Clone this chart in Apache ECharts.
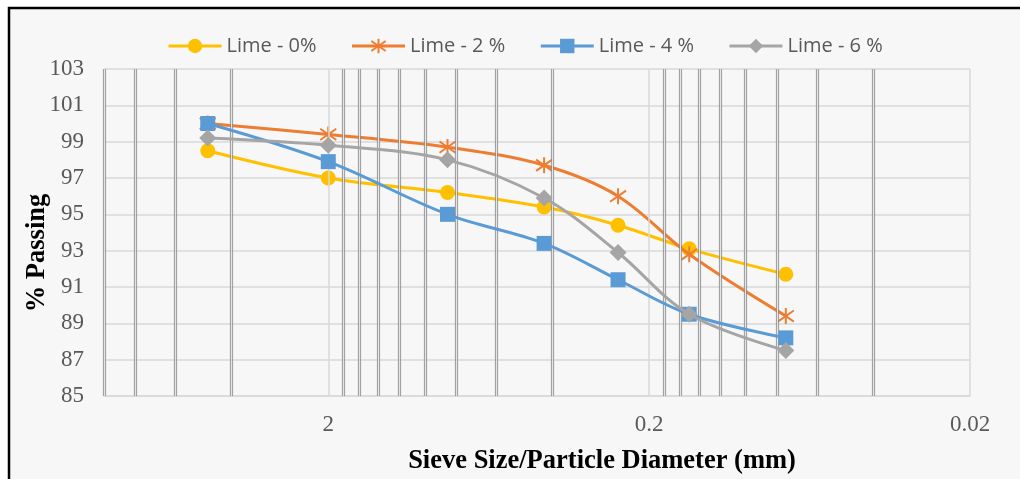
<!DOCTYPE html>
<html>
<head>
<meta charset="utf-8">
<script src="https://cdn.jsdelivr.net/npm/echarts@6/dist/echarts.min.js"></script>
<style>
  html, body { margin: 0; padding: 0; background: #ffffff; }
  #chart { width: 1020px; height: 479px; }
</style>
</head>
<body>
<div id="chart"></div>
<script>
// Sieve sizes (mm) and % passing for each lime content
const sieveSizes = [4.75, 2, 0.85, 0.425, 0.25, 0.15, 0.075];
const lime0 = [98.5, 97.0, 96.2, 95.4, 94.4, 93.1, 91.7];
const lime2 = [100, 99.4, 98.7, 97.7, 96.0, 92.8, 89.4];
const lime4 = [100, 97.9, 95.0, 93.4, 91.4, 89.5, 88.2];
const lime6 = [99.2, 98.8, 98.0, 95.9, 92.9, 89.5, 87.5];
const seriesNames = ['Lime - 0%', 'Lime - 2 %', 'Lime - 4 %', 'Lime - 6 %'];

// Log-axis labels and grid positions (mm)
const xTickLabels = [2, 0.2, 0.02];
const minorGridValues = [10, 8, 6, 4, 1.8, 1.6, 1.4, 1.2, 1.0, 0.8, 0.6, 0.4,
                         0.18, 0.16, 0.14, 0.12, 0.1, 0.08, 0.06, 0.04];

const COLORS = ['#FFC000', '#ED7D31', '#5B9BD5', '#A5A5A5'];
const SERIF = '"Liberation Serif", "Times New Roman", serif';
const SANS = '"Open Sans", "Noto Sans", sans-serif';
const STAR = 'path://M10,0 L10,20 M2.5,3 L17.5,17 M17.5,3 L2.5,17';

function pairs(vals) {
  return sieveSizes.map((s, i) => [s, vals[i]]);
}

// vertical grid lines: dark doubled minor lines, light lines at the labelled decades
const gridLines = [];
minorGridValues.forEach(v => {
  gridLines.push({ xAxis: v, lineStyle: { color: 'rgba(140,140,140,0.8)', width: 3.2, type: 'solid' } });
});
minorGridValues.forEach(v => {
  gridLines.push({ xAxis: v, lineStyle: { color: 'rgba(236,236,236,0.9)', width: 1, type: 'solid' } });
});
xTickLabels.forEach(v => {
  gridLines.push({
    xAxis: v, name: String(v),
    lineStyle: { color: '#d9d9d9', width: 1.5, type: 'solid' },
    label: {
      show: true, position: 'start', distance: 17, formatter: '{b}',
      fontFamily: SERIF, fontSize: 23, color: '#595959'
    }
  });
});

function lineSeries(idx, vals, symbol, size, extraItem) {
  return {
    name: seriesNames[idx],
    type: 'line',
    data: pairs(vals),
    smooth: 0.35,
    symbol: symbol,
    symbolSize: size,
    showAllSymbol: true,
    lineStyle: { color: COLORS[idx], width: 3 },
    itemStyle: Object.assign({ color: COLORS[idx], borderWidth: 0 }, extraItem || {}),
    z: 3 + idx,
    animation: false
  };
}

const chart = echarts.init(document.getElementById('chart'), null, { renderer: 'canvas' });
chart.setOption({
  backgroundColor: '#ffffff',
  animation: false,
  graphic: [
    {
      type: 'rect', z: -100, silent: true,
      shape: { x: 9, y: 8, width: 1200, height: 700 },
      style: { fill: '#f7f7f7', stroke: '#000000', lineWidth: 2.5 }
    },
    {
      type: 'text', x: 37, y: 253, rotation: Math.PI / 2, silent: true,
      style: {
        text: '% Passing', font: 'bold 26.5px ' + SERIF, fill: '#000000',
        textAlign: 'center', textVerticalAlign: 'middle'
      }
    },
    {
      type: 'text', x: 602, y: 461, silent: true,
      style: {
        text: 'Sieve Size/Particle Diameter (mm)', font: 'bold 26.5px ' + SERIF, fill: '#000000',
        textAlign: 'center', textVerticalAlign: 'middle'
      }
    }
  ],
  legend: {
    data: seriesNames,
    left: 162,
    top: 31,
    itemWidth: 53,
    itemHeight: 18,
    itemGap: 34,
    lineStyle: { width: 3 },
    textStyle: { fontFamily: SANS, fontSize: 20, color: '#595959' }
  },
  grid: { left: 104, right: 50, top: 69, bottom: 83, containLabel: false },
  xAxis: {
    type: 'log',
    logBase: 10,
    min: 0.02,
    max: 10,
    inverse: true,
    axisLine: { show: true, lineStyle: { color: '#d9d9d9', width: 1.5 } },
    axisTick: { show: false },
    axisLabel: { show: false },
    splitLine: { show: false },
    minorSplitLine: { show: false }
  },
  yAxis: {
    type: 'value',
    min: 85,
    max: 103,
    interval: 2,
    axisLine: { show: false },
    axisTick: { show: false },
    axisLabel: { fontFamily: SERIF, fontSize: 23, color: '#595959', margin: 20 },
    splitLine: { show: true, lineStyle: { color: '#d9d9d9', width: 1.5 } }
  },
  series: [
    {
      name: 'grid',
      type: 'line',
      data: [],
      z: 1,
      silent: true,
      animation: false,
      markLine: {
        silent: true,
        symbol: 'none',
        animation: false,
        label: { show: false },
        emphasis: { disabled: true },
        data: gridLines
      }
    },
    lineSeries(0, lime0, 'circle', 15),
    lineSeries(1, lime2, STAR, 16, { borderColor: COLORS[1], borderWidth: 2 }),
    lineSeries(2, lime4, 'rect', 15),
    lineSeries(3, lime6, 'diamond', 17)
  ]
});
</script>
</body>
</html>
